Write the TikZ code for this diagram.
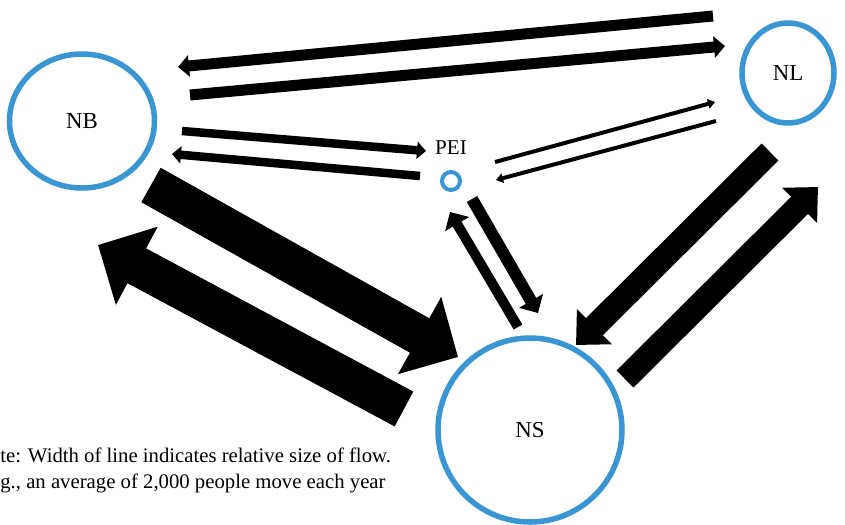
\documentclass[tikz,border=0pt]{standalone}
\usepackage{fontspec}
\setmainfont{Liberation Serif}
\usetikzlibrary{arrows.meta,positioning,shapes.geometric}
\definecolor{provblue}{RGB}{57,150,211}

\begin{document}
\begin{tikzpicture}[x=0.2mm,y=-0.2mm,line cap=butt]
  \tikzstyle{prov}=[ellipse,draw=provblue,line width=1.1mm,inner sep=0pt,font=\fontsize{13}{15}\selectfont]
  \tikzstyle{thin flow}=[line width=0.8mm,-{Triangle[width=1.9mm,length=1.4mm]}]
  \tikzstyle{small flow}=[line width=1.7mm,-{Triangle[width=3.4mm,length=1.8mm]}]
  \tikzstyle{mid flow}=[line width=2.2mm,-{Triangle[width=4.2mm,length=2.2mm]}]
  \tikzstyle{pei flow}=[line width=2.2mm,-{Triangle[width=5.4mm,length=2.8mm]}]
  \tikzstyle{big flow}=[line width=4.8mm,-{Triangle[width=9.6mm,length=5.2mm]}]
  \tikzstyle{huge flow}=[line width=7.9mm,-{Triangle[width=17.2mm,length=8.8mm]}]
  \tikzstyle{note}=[anchor=base west,inner sep=0pt,font=\fontsize{11.8}{14}\selectfont]
  \useasboundingbox (0,0) rectangle (845,524);
  \clip (0,0) rectangle (845,524);

  \node[prov,minimum width=29mm,minimum height=26.8mm] (nb) at (82,121) {NB};
  \node[prov,minimum width=18.4mm,minimum height=20mm] (nl) at (788,73) {NL};
  \node[prov,circle,minimum size=36.8mm] (ns) at (530,430) {NS};
  \node[prov,circle,line width=0.8mm,minimum size=3.6mm] (pei) at (451,181) {};
  \node[above=3mm of pei,inner sep=0pt,font=\fontsize{12}{14}\selectfont] (peilab) {PEI};

  \coordinate (nlnb-s) at (713,16);   \coordinate (nlnb-e) at (178,67);
  \coordinate (nbnl-s) at (190,95);   \coordinate (nbnl-e) at (725,46);
  \coordinate (nbpei-s) at (182,131); \coordinate (nbpei-e) at (426,151);
  \coordinate (peinb-s) at (420,176); \coordinate (peinb-e) at (172,154);
  \coordinate (peinl-s) at (495,162); \coordinate (peinl-e) at (715,102);
  \coordinate (nlpei-s) at (716,121); \coordinate (nlpei-e) at (496,180);
  \coordinate (nbns-s) at (151,185);  \coordinate (nbns-e) at (458,357);
  \coordinate (nsnb-s) at (404,409);  \coordinate (nsnb-e) at (98,245);
  \coordinate (nlns-s) at (770,152);  \coordinate (nlns-e) at (576,345);
  \coordinate (nsnl-s) at (625,379);  \coordinate (nsnl-e) at (818,187);
  \coordinate (peins-s) at (472,199); \coordinate (peins-e) at (538,313);
  \coordinate (nspei-s) at (518,327); \coordinate (nspei-e) at (450,212);

  \draw[mid flow] (nlnb-s) -- (nlnb-e);
  \draw[mid flow] (nbnl-s) -- (nbnl-e);
  \draw[small flow] (nbpei-s) -- (nbpei-e);
  \draw[small flow] (peinb-s) -- (peinb-e);
  \draw[thin flow] (peinl-s) -- (peinl-e);
  \draw[thin flow] (nlpei-s) -- (nlpei-e);
  \draw[huge flow] (nbns-s) -- (nbns-e);
  \draw[huge flow] (nsnb-s) -- (nsnb-e);
  \draw[big flow] (nlns-s) -- (nlns-e);
  \draw[big flow] (nsnl-s) -- (nsnl-e);
  \draw[pei flow,line width=2.4mm] (peins-s) -- (peins-e);
  \draw[pei flow,line width=2mm] (nspei-s) -- (nspei-e);

  \node[note] (note1) at (0,462) {te: Width of line indicates relative size of flow.};
  \node[note] (note2) at (0,488) {g., an average of 2,000 people move each year};
\end{tikzpicture}
\end{document}
